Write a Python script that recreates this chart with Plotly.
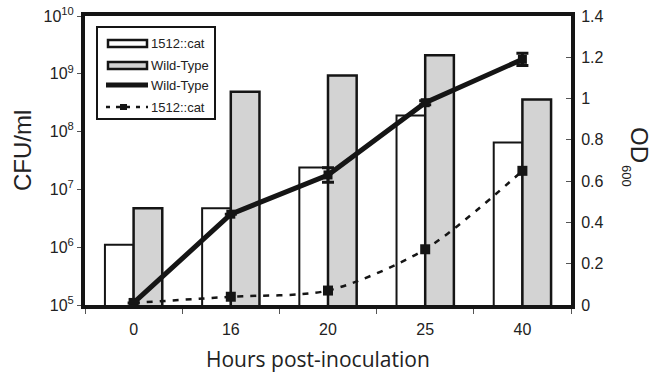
import plotly.graph_objects as go

hours = ["0", "16", "20", "25", "40"]
cfu_mutant = [1.1e6, 4.7e6, 2.4e7, 1.9e8, 6.5e7]
cfu_wt = [4.7e6, 4.9e8, 9.3e8, 2.1e9, 3.6e8]
od_wt = [0.01, 0.44, 0.63, 0.98, 1.19]
od_wt_err = [0.0, 0.0, 0.035, 0.01, 0.03]
od_mutant = [0.01, 0.04, 0.07, 0.27, 0.65]
od_mutant_err = [0.0, 0.0, 0.0, 0.0, 0.0]
log_tickvals = [1e5, 1e6, 1e7, 1e8, 1e9, 1e10]
log_ticktext = ["10<sup>5</sup>", "10<sup>6</sup>", "10<sup>7</sup>", "10<sup>8</sup>", "10<sup>9</sup>", "10<sup>10</sup>"]
legend_labels = ["1512::cat", "Wild-Type", "Wild-Type", "1512::cat"]

W, H = 653, 372
L, R, T, B = 85, 82, 16, 67
PW, PH = W - L - R, H - T - B

def px(x):
    return (x - L) / PW

def py(y):
    return (H - B - y) / PH

font = "Liberation Sans, Arial, sans-serif"
ink = "#151515"

fig = go.Figure()
fig.add_trace(go.Bar(x=hours, y=cfu_mutant, name=legend_labels[0],
                     marker=dict(color="white", line=dict(color=ink, width=2)),
                     yaxis="y"))
fig.add_trace(go.Bar(x=hours, y=cfu_wt, name=legend_labels[1],
                     marker=dict(color="#d3d3d3", line=dict(color=ink, width=2.5)),
                     yaxis="y"))
fig.add_trace(go.Scatter(x=hours, y=od_wt, name=legend_labels[2], mode="lines+markers",
                         line=dict(color=ink, width=5),
                         marker=dict(symbol="square", size=9, color=ink),
                         error_y=dict(type="data", array=od_wt_err, color=ink, thickness=3, width=6),
                         yaxis="y2"))
fig.add_trace(go.Scatter(x=hours, y=od_mutant, name=legend_labels[3], mode="lines+markers",
                         line=dict(color=ink, width=2.5, dash="6px,7px", shape="spline", smoothing=0.8),
                         marker=dict(symbol="square", size=10, color=ink),
                         error_y=dict(type="data", array=od_mutant_err, color=ink, thickness=2, width=4),
                         yaxis="y2"))

# custom legend (box, swatches, labels)
shapes = [
    dict(type="rect", xref="paper", yref="paper", x0=px(97), x1=px(215), y0=py(119), y1=py(27),
         line=dict(color=ink, width=2), fillcolor="white", layer="above"),
    dict(type="rect", xref="paper", yref="paper", x0=px(108), x1=px(147), y0=py(47), y1=py(40),
         line=dict(color=ink, width=2.5), fillcolor="white", layer="above"),
    dict(type="rect", xref="paper", yref="paper", x0=px(108), x1=px(147), y0=py(69), y1=py(62),
         line=dict(color=ink, width=2.5), fillcolor="#d3d3d3", layer="above"),
    dict(type="line", xref="paper", yref="paper", x0=px(106), x1=px(148), y0=py(85), y1=py(85),
         line=dict(color=ink, width=5), layer="above"),
    dict(type="line", xref="paper", yref="paper", x0=px(106), x1=px(148), y0=py(107), y1=py(107),
         line=dict(color=ink, width=2.5, dash="4px,6px"), layer="above"),
    dict(type="rect", xref="paper", yref="paper", x0=px(120), x1=px(127), y0=py(110), y1=py(104),
         line=dict(color=ink, width=0), fillcolor=ink, layer="above"),
]
annotations = []
for lbl, yy in zip(legend_labels, [43, 65, 85, 107]):
    annotations.append(dict(text=lbl, x=px(149), y=py(yy), xref="paper", yref="paper",
                            xanchor="left", yanchor="middle", showarrow=False,
                            font=dict(size=13, family=font, color="#222")))
annotations += [
    dict(text="CFU/ml", textangle=-90, x=px(22), y=py(151), xref="paper", yref="paper",
         xanchor="center", yanchor="middle", showarrow=False,
         font=dict(size=24, family=font, color="#222")),
    dict(text="OD", textangle=90, x=px(640), y=py(145), xref="paper", yref="paper",
         xanchor="center", yanchor="middle", showarrow=False,
         font=dict(size=24, family=font, color="#222")),
    dict(text="600", textangle=90, x=px(627), y=py(176), xref="paper", yref="paper",
         xanchor="center", yanchor="middle", showarrow=False,
         font=dict(size=13, family=font, color="#222")),
    dict(text="Hours post-inoculation", x=px(318), y=py(359), xref="paper", yref="paper",
         xanchor="center", yanchor="middle", showarrow=False,
         font=dict(size=21, family="Open Sans, sans-serif", color="#222")),
]

fig.update_layout(
    width=W, height=H,
    margin=dict(l=L, r=R, t=T, b=B, autoexpand=False),
    paper_bgcolor="white", plot_bgcolor="white",
    font=dict(family=font, color="#222", size=16),
    barmode="group", bargap=0.41, bargroupgap=0,
    showlegend=False,
    shapes=shapes, annotations=annotations,
    xaxis=dict(type="category", showline=True, linecolor=ink, linewidth=4, mirror=True,
               ticks="outside", tickson="boundaries", ticklen=5, tickcolor="#555",
               showgrid=False, zeroline=False, automargin=False, ticklabelstandoff=7,
               tickfont=dict(size=16)),
    yaxis=dict(type="log", range=[5, 10], tickvals=log_tickvals, ticktext=log_ticktext,
               showline=True, linecolor=ink, linewidth=4, ticks="outside", ticklen=4,
               tickcolor="#555", showgrid=False, zeroline=False, automargin=False,
               tickfont=dict(size=16)),
    yaxis2=dict(overlaying="y", side="right", range=[0, 1.4], dtick=0.2,
                showline=True, linecolor=ink, linewidth=4, ticks="inside", ticklen=5,
                tickcolor="#555", showgrid=False, zeroline=False, automargin=False,
                ticklabelstandoff=3, tickfont=dict(size=16)),
)

fig.write_html("out.html", config={"displayModeBar": False},
               post_script="document.body.style.margin='0px';")
